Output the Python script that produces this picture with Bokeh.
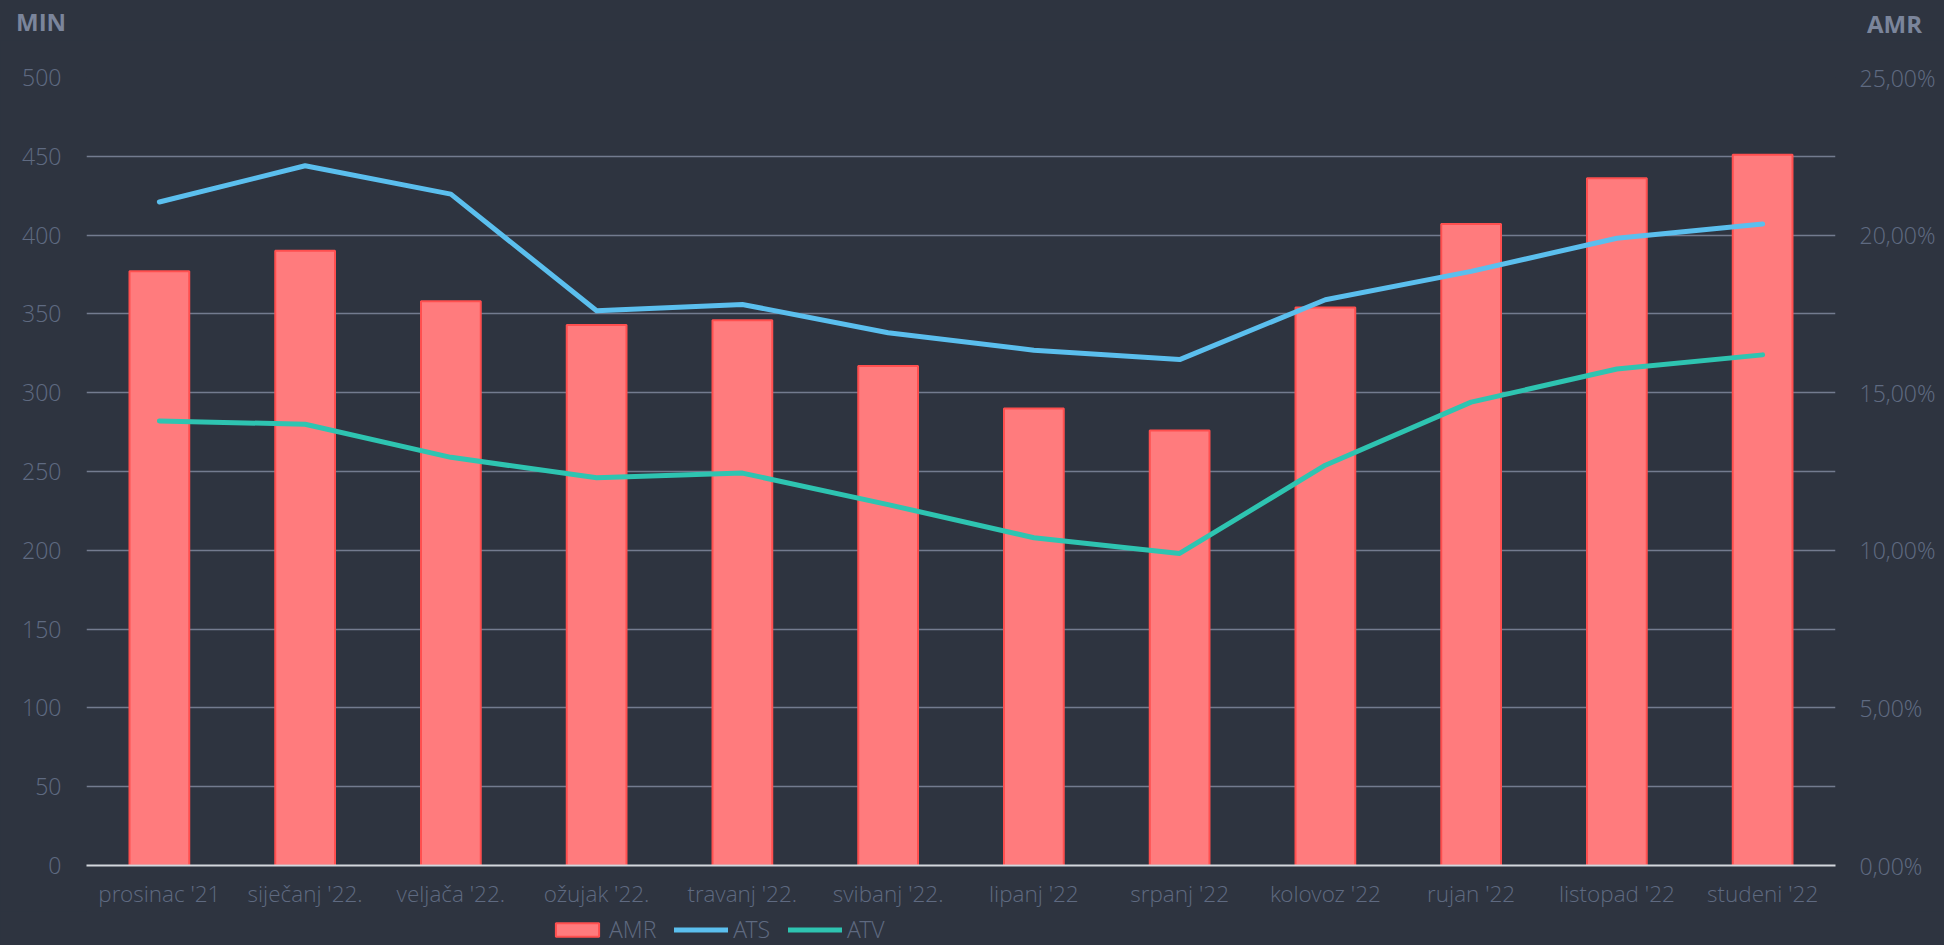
from bokeh.plotting import figure
from bokeh.layouts import column
from bokeh.models import (ColumnDataSource, Range1d, FactorRange, LinearAxis, FixedTicker,
                          Legend, LegendItem, Div, GlobalInlineStyleSheet)
from bokeh.embed import file_html
from bokeh.resources import INLINE

# ---- data ----
months = ["prosinac '21", "siječanj '22.", "veljača '22.", "ožujak '22.", "travanj '22.",
          "svibanj '22.", "lipanj '22", "srpanj '22", "kolovoz '22", "rujan '22",
          "listopad '22", "studeni '22"]
amr = [18.85, 19.5, 17.9, 17.15, 17.3, 15.85, 14.5, 13.8, 17.7, 20.35, 21.8, 22.55]  # %
ats = [421, 444, 426, 352, 356, 338, 327, 321, 359, 377, 398, 407]
atv = [282, 280, 259, 246, 249, 229, 208, 198, 254, 294, 315, 324]
left_ticks = [0, 50, 100, 150, 200, 250, 300, 350, 400, 450, 500]
right_ticks = [0, 5, 10, 15, 20, 25]
right_labels = ["0,00%", "5,00%", "10,00%", "15,00%", "20,00%", "25,00%"]
series_names = ["AMR", "ATS", "ATV"]
left_title = "MIN"
right_title = "AMR"

BG = "#2e3440"
TICK_COL = "#5f6a81"
TITLE_COL = "#7b859b"
GRID_COL = "#737b8f"
BAR_FILL = "#ff7b7d"
BAR_LINE = "#ff4f4f"
ATS_COL = "#5bbfee"
ATV_COL = "#2ec4b1"
FONT = "Open Sans"
LIGHT = "Open Sans Light, Open Sans"

W = 1944
HEAD_H = 40
MAIN_H = 871
FOOT_H = 34
NAN = float("nan")

# ---- header with the two axis titles ----
head = Div(width=W, height=HEAD_H, margin=0, text=(
    "<div style=\"display:flex;justify-content:space-between;box-sizing:border-box;"
    "width:%dpx;height:%dpx;padding:10px 22px 0 16px;font-family:'Open Sans';"
    "font-weight:bold;font-size:24px;line-height:24px;color:%s;\">"
    "<span>%s</span><span style=\"margin-top:2px;\">%s</span></div>"
    % (W, HEAD_H, TITLE_COL, left_title, right_title)))

# ---- main chart ----
src = ColumnDataSource(dict(month=months, amr=amr, ats=ats, atv=atv))

p = figure(width=W, height=MAIN_H, x_range=FactorRange(*months, range_padding=0),
           y_range=Range1d(0, 500), output_backend="svg", toolbar_location=None,
           min_border_left=86, min_border_right=109, min_border_top=37, min_border_bottom=43,
           background_fill_color=BG, border_fill_color=BG,
           stylesheets=[GlobalInlineStyleSheet(css="body{background:%s;}" % BG)])
p.outline_line_color = None
p.extra_y_ranges = {"amr": Range1d(0, 25)}

p.vbar(x="month", top="amr", width=0.41, source=src, y_range_name="amr",
       fill_color=BAR_FILL, line_color=BAR_LINE, line_width=2)
p.line(x="month", y="ats", source=src, line_color=ATS_COL, line_width=5,
       line_cap="round", line_join="round")
p.line(x="month", y="atv", source=src, line_color=ATV_COL, line_width=5,
       line_cap="round", line_join="round")

p.yaxis.ticker = FixedTicker(ticks=left_ticks)
p.ygrid.ticker = FixedTicker(ticks=left_ticks)
p.ygrid.grid_line_color = GRID_COL
p.ygrid.grid_line_width = 1.5
p.xgrid.grid_line_color = None

ya = p.yaxis[0]
ya.axis_line_color = None
ya.major_tick_line_color = None
ya.minor_tick_line_color = None
ya.major_tick_out = 0
ya.major_label_standoff = 25
ya.major_label_text_font = LIGHT
ya.major_label_text_font_size = "23px"
ya.major_label_text_color = TICK_COL

xa = p.xaxis[0]
xa.axis_line_color = "#d4d7dd"
xa.axis_line_width = 2
xa.major_tick_line_color = None
xa.major_tick_out = 0
xa.major_label_standoff = 12
xa.major_label_text_font = LIGHT
xa.major_label_text_font_size = "22.5px"
xa.major_label_text_color = TICK_COL

ra = LinearAxis(y_range_name="amr", ticker=FixedTicker(ticks=right_ticks),
                major_label_overrides={t: l for t, l in zip(right_ticks, right_labels)})
ra.axis_line_color = None
ra.major_tick_line_color = None
ra.minor_tick_line_color = None
ra.major_tick_out = 0
ra.major_label_standoff = 24
ra.major_label_text_font = LIGHT
ra.major_label_text_font_size = "23px"
ra.major_label_text_color = TICK_COL
p.add_layout(ra, "right")

# ---- footer with the series legend ----
foot = figure(width=W, height=FOOT_H, output_backend="svg", toolbar_location=None,
              x_range=Range1d(0, 1), y_range=Range1d(0, 1),
              x_axis_location=None, y_axis_location=None,
              min_border_left=0, min_border_right=0, min_border_top=0, min_border_bottom=0,
              background_fill_color=BG, border_fill_color=BG)
foot.outline_line_color = None
foot.grid.visible = False
# legend proxies (NaN data: nothing is drawn in the plot area, only legend swatches)
k_bar = foot.vbar(x=[NAN], top=[NAN], width=0.4, fill_color=BAR_FILL, line_color=BAR_LINE,
                  line_width=2)
k_ats = foot.line(x=[NAN], y=[NAN], line_color=ATS_COL, line_width=5, line_cap="round")
k_atv = foot.line(x=[NAN], y=[NAN], line_color=ATV_COL, line_width=5, line_cap="round")
legend = Legend(items=[LegendItem(label=n, renderers=[r])
                       for n, r in zip(series_names, [k_bar, k_ats, k_atv])],
                orientation="horizontal", location=(464, 0),
                glyph_width=54, glyph_height=17, label_standoff=5, spacing=18,
                padding=0, margin=0, border_line_alpha=0, background_fill_alpha=0,
                label_text_font=LIGHT, label_text_font_size="23px", label_text_color=TICK_COL,
                label_height=17)
foot.add_layout(legend, "center")

layout = column(head, p, foot, spacing=0)
open("out.html", "w").write(file_html(layout, INLINE))
